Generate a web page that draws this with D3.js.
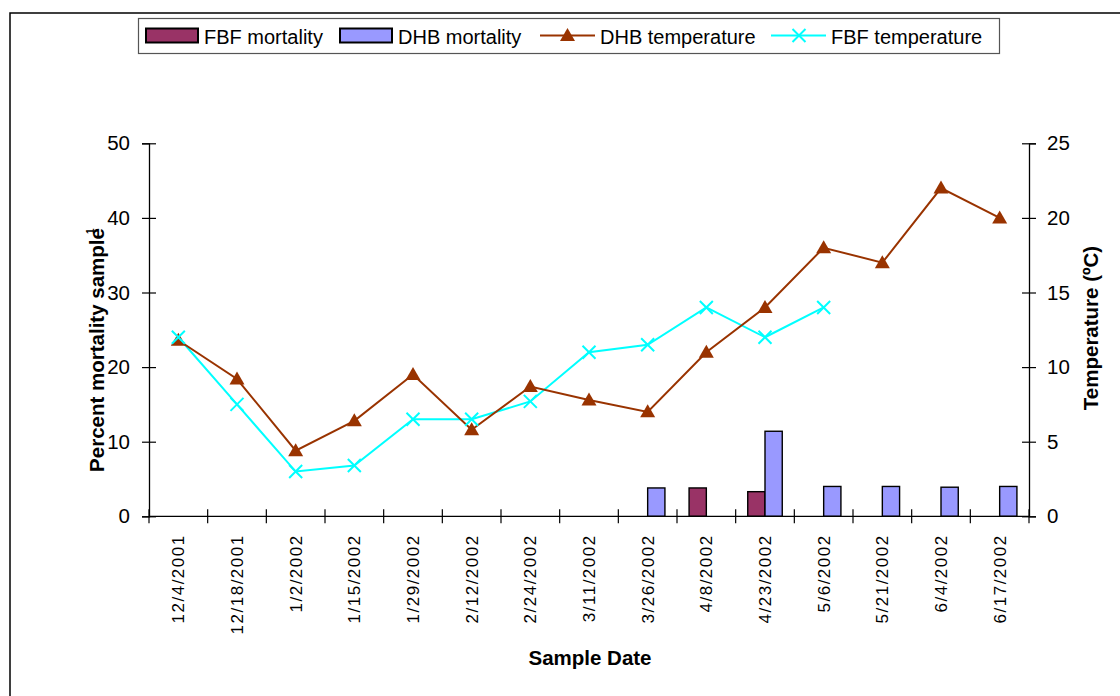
<!DOCTYPE html>
<html>
<head>
<meta charset="utf-8">
<script src="https://cdn.jsdelivr.net/npm/d3@7/dist/d3.min.js"></script>
<style>
  html, body { margin: 0; padding: 0; background: #fff; }
  svg { display: block; font-family: "Liberation Sans", Arial, sans-serif; }
</style>
</head>
<body>
<svg id="chart" width="1120" height="696"></svg>
<script>
// Sample dates (categories)
const dates = ["12/4/2001","12/18/2001","1/2/2002","1/15/2002","1/29/2002","2/12/2002","2/24/2002",
  "3/11/2002","3/26/2002","4/8/2002","4/23/2002","5/6/2002","5/21/2002","6/4/2002","6/17/2002"];

// Percent mortality per sample (left axis)
const fbfMortality = [null,null,null,null,null,null,null,null,null,3.8,3.3,null,null,null,null];
const dhbMortality = [null,null,null,null,null,null,null,null,3.8,null,11.4,4.0,4.0,3.9,4.0];

// Water temperature, ºC (right axis)
const dhbTemperature = [11.8,9.2,4.4,6.4,9.5,5.8,8.7,7.8,7.0,11.0,14.0,18.0,17.0,22.0,20.0];
const fbfTemperature = [12.0,7.5,3.0,3.4,6.5,6.5,7.7,11.0,11.5,14.0,12.0,14.0,null,null,null];

// Axis ticks
const mortalityTicks = [0,10,20,30,40,50];
const temperatureTicks = [0,5,10,15,20,25];

const legendItems = [
  {label: "FBF mortality", kind: "bar", color: "#993366"},
  {label: "DHB mortality", kind: "bar", color: "#9999FF"},
  {label: "DHB temperature", kind: "tri", color: "#993300"},
  {label: "FBF temperature", kind: "x", color: "#00FFFF"}
];

const svg = d3.select("#chart");
const plot = {left: 149, right: 1029, top: 143.3, bottom: 516.3};

// outer frame
svg.append("path")
  .attr("d", `M10,700 L10,13 L1125,13`)
  .attr("fill", "none").attr("stroke", "#000").attr("stroke-width", 1.5);

const x = d3.scaleBand().domain(dates).range([plot.left, plot.right]).padding(0);
const series = d3.scaleBand().domain(["FBF","DHB"]).range([0, x.bandwidth()])
  .paddingInner(0).paddingOuter(0.7);
const yL = d3.scaleLinear().domain([0,50]).range([plot.bottom, plot.top]);
const yR = d3.scaleLinear().domain([0,25]).range([plot.bottom, plot.top]);

// bars
const barData = [];
dates.forEach((d,i) => {
  if (fbfMortality[i] != null) barData.push({date: d, s: "FBF", v: fbfMortality[i], color: "#993366"});
  if (dhbMortality[i] != null) barData.push({date: d, s: "DHB", v: dhbMortality[i], color: "#9999FF"});
});
svg.append("g").selectAll("rect").data(barData).join("rect")
  .attr("x", d => x(d.date) + series(d.s))
  .attr("y", d => yL(d.v))
  .attr("width", series.bandwidth())
  .attr("height", d => yL(0) - yL(d.v))
  .attr("fill", d => d.color)
  .attr("stroke", "#000").attr("stroke-width", 1.4);

// axes
const fontSize = 20;
const axL = svg.append("g").attr("transform", `translate(${plot.left},0)`)
  .call(d3.axisLeft(yL).tickValues(mortalityTicks).tickSize(7).tickPadding(12));
axL.selectAll(".tick line").attr("x1", 7);
const axR = svg.append("g").attr("transform", `translate(${plot.right},0)`)
  .call(d3.axisRight(yR).tickValues(temperatureTicks).tickSize(7).tickPadding(11));
axR.selectAll(".tick line").attr("x1", -7);
[axL, axR].forEach(a => {
  a.select(".domain").attr("stroke", "#000").attr("stroke-width", 1.3);
  a.selectAll(".tick line").attr("stroke", "#000").attr("stroke-width", 1.2);
  a.selectAll(".tick text").attr("font-size", 20.5).attr("fill", "#000")
    .attr("font-family", "Liberation Sans, Arial, sans-serif");
});

// category axis: ticks at band boundaries
const boundaries = dates.map(d => x(d)).concat([plot.right]);
const gx = svg.append("g");
gx.append("line").attr("x1", plot.left).attr("x2", plot.right)
  .attr("y1", plot.bottom).attr("y2", plot.bottom)
  .attr("stroke", "#000").attr("stroke-width", 1.3);
gx.selectAll("line.tk").data(boundaries).join("line").attr("class", "tk")
  .attr("x1", d => d).attr("x2", d => d)
  .attr("y1", plot.bottom - 7).attr("y2", plot.bottom + 7)
  .attr("stroke", "#000").attr("stroke-width", 1.2);
gx.selectAll("text").data(dates).join("text")
  .attr("transform", d => `translate(${x(d) + x.bandwidth()/2 + 6},${plot.bottom + 18}) rotate(-90)`)
  .attr("text-anchor", "end")
  .attr("font-size", 17).attr("letter-spacing", 1.5)
  .text(d => d);

// temperature lines
const line = (vals) => d3.line()
  .defined(d => d.v != null)
  .x(d => x(d.date) + x.bandwidth()/2)
  .y(d => yR(d.v))(dates.map((d,i) => ({date: d, v: vals[i]})));

svg.append("path").attr("d", line(fbfTemperature))
  .attr("fill", "none").attr("stroke", "#00FFFF").attr("stroke-width", 2);
svg.append("path").attr("d", line(dhbTemperature))
  .attr("fill", "none").attr("stroke", "#993300").attr("stroke-width", 2);

const triPath = "M0,-7.5 L7.5,5.5 L-7.5,5.5 Z";
const xPath = "M-6.5,-6.5 L6.5,6.5 M-6.5,6.5 L6.5,-6.5";

svg.append("g").selectAll("path")
  .data(dates.map((d,i) => ({date: d, v: dhbTemperature[i]})).filter(d => d.v != null))
  .join("path")
  .attr("transform", d => `translate(${x(d.date) + x.bandwidth()/2},${yR(d.v)})`)
  .attr("d", triPath).attr("fill", "#993300");

svg.append("g").selectAll("path")
  .data(dates.map((d,i) => ({date: d, v: fbfTemperature[i]})).filter(d => d.v != null))
  .join("path")
  .attr("transform", d => `translate(${x(d.date) + x.bandwidth()/2},${yR(d.v)})`)
  .attr("d", xPath).attr("fill", "none").attr("stroke", "#00FFFF").attr("stroke-width", 2);

// axis titles
const lt = svg.append("text")
  .attr("transform", "translate(104,350) rotate(-90)")
  .attr("text-anchor", "middle").attr("font-size", 20.5).attr("font-weight", "bold");
lt.append("tspan").text("Percent mortality sample");
lt.append("tspan").attr("font-size", 10).attr("dy", -10).attr("dx", -6).text("1");

svg.append("text")
  .attr("transform", "translate(1098,328) rotate(-90)")
  .attr("text-anchor", "middle").attr("font-size", 20.5).attr("font-weight", "bold")
  .text("Temperature (ºC)");

svg.append("text")
  .attr("x", 590).attr("y", 665)
  .attr("text-anchor", "middle").attr("font-size", 20.5).attr("font-weight", "bold")
  .text("Sample Date");

// legend
const lg = svg.append("g");
lg.append("rect").attr("x", 138.5).attr("y", 18.5).attr("width", 861).attr("height", 35)
  .attr("fill", "#fff").attr("stroke", "#555").attr("stroke-width", 1.2);
const legendX = [145, 339, 540, 771];
legendItems.forEach((it, i) => {
  const g = lg.append("g").attr("transform", `translate(${legendX[i]},0)`);
  if (it.kind === "bar") {
    g.append("rect").attr("x", 1).attr("y", 28.5).attr("width", 52).attr("height", 14)
      .attr("fill", it.color).attr("stroke", "#000").attr("stroke-width", 2);
    g.append("text").attr("x", 59).attr("y", 43.5).attr("font-size", fontSize).text(it.label);
  } else {
    g.append("line").attr("x1", 0).attr("x2", 55).attr("y1", 35.5).attr("y2", 35.5)
      .attr("stroke", it.color).attr("stroke-width", 2);
    if (it.kind === "tri") {
      g.append("path").attr("transform", "translate(27.5,35.5)").attr("d", triPath).attr("fill", it.color);
    } else {
      g.append("path").attr("transform", "translate(28,35.5)").attr("d", xPath)
        .attr("fill", "none").attr("stroke", it.color).attr("stroke-width", 2);
    }
    g.append("text").attr("x", 60).attr("y", 43.5).attr("font-size", fontSize).text(it.label);
  }
});
</script>
</body>
</html>
